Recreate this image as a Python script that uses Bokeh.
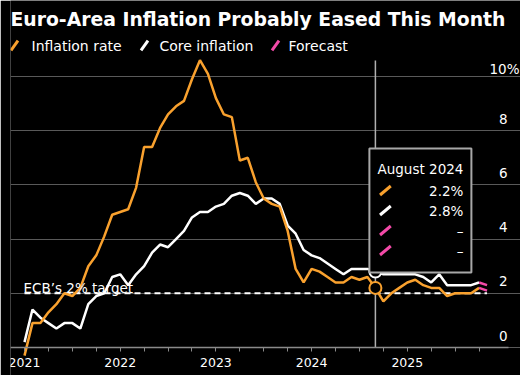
import math
from bokeh.plotting import figure
from bokeh.models import (ColumnDataSource, Range1d, FixedTicker, BoxAnnotation, Label,
                          LabelSet)
from bokeh.core.properties import value
from bokeh.embed import file_html
from bokeh.resources import INLINE

# ---------------- data ----------------
# index 0 = Dec 2020 (monthly values plotted at month end), index 57 = Sep 2025
inflation = [-0.3,
             0.9, 0.9, 1.3, 1.6, 2.0, 1.9, 2.2, 3.0, 3.4, 4.1, 4.9, 5.0,
             5.1, 5.9, 7.4, 7.4, 8.1, 8.6, 8.9, 9.1, 9.9, 10.6, 10.1, 9.2,
             8.6, 8.5, 6.9, 7.0, 6.1, 5.5, 5.3, 5.2, 4.3, 2.9, 2.4, 2.9,
             2.8, 2.6, 2.4, 2.4, 2.6, 2.5, 2.6, 2.2, 1.7, 2.0, 2.2, 2.4,
             2.5, 2.3, 2.2, 2.2, 1.9, 2.0, 2.0, 2.0, 2.2]
core = [0.2,
        1.4, 1.1, 0.9, 0.7, 0.9, 0.9, 0.7, 1.6, 1.9, 2.0, 2.6, 2.7,
        2.3, 2.7, 3.0, 3.5, 3.8, 3.7, 4.0, 4.3, 4.8, 5.0, 5.0, 5.2,
        5.3, 5.6, 5.7, 5.6, 5.3, 5.5, 5.5, 5.3, 4.5, 4.2, 3.6, 3.4,
        3.3, 3.1, 2.9, 2.7, 2.9, 2.9, 2.9, 2.8, 2.7, 2.7, 2.7, 2.7,
        2.7, 2.6, 2.4, 2.7, 2.3, 2.3, 2.3, 2.3, 2.4]
month_index = list(range(len(inflation)))
forecast_x = [57, 58]
forecast_inflation = [2.2, 2.1]
forecast_core = [2.4, 2.3]

year_ticks = [0, 12, 24, 36, 48]
year_labels = ["2021", "2022", "2023", "2024", "2025"]
quarter_ticks = [3, 6, 9, 15, 18, 21, 27, 30, 33, 39, 42, 45, 51, 54, 57]
y_ticks = [0, 2, 4, 6, 8, 10]
y_labels = ["0", "2", "4", "6", "8", "10"]
target = 2.0
target_label = "ECB\u2019s 2% target"
hover_idx = 44
hover_label = "August 2024"
title_text = "Euro-Area Inflation Probably Eased This Month"
series_names = ["Inflation rate", "Core inflation", "Forecast"]

# ---------------- style ----------------
ORANGE = "#f9a12e"
WHITE = "#ffffff"
PINK = "#f34aa8"
GRID = "#595959"
AXIS = "#8a8a8a"
FONT = "DejaVu Sans"

FW, FH = 510, 375
PLOT_W = 498                      # width of the axis / grid area in px
X0 = -1.755
SX = 498 / (60.69 - X0)
XR = X0 + PLOT_W / SX            # right end of axis and grid lines
X1 = X0 + FW / SX
Y0, Y1 = -1.033, 12.804
SY = FH / (Y1 - Y0)


def px_x(px):  # horizontal layout helper: pixels from frame left -> data x
    return X0 + px / SX


def px_y(px):  # vertical layout helper: pixels from frame top -> data y
    return Y1 - px / SY


p = figure(width=520, height=375,
           x_range=Range1d(X0, X1), y_range=Range1d(Y0, Y1),
           output_backend="svg", toolbar_location=None,
           y_axis_location=None,
           background_fill_color="black", border_fill_color="black",
           outline_line_color=None,
           min_border=0, min_border_left=10, min_border_right=0)
p.title.visible = False

p.xgrid.visible = False
p.ygrid.ticker = FixedTicker(ticks=y_ticks)
p.ygrid.grid_line_color = GRID
p.ygrid.grid_line_width = 1
p.ygrid.bounds = (X0, XR)

ax = p.xaxis[0]
ax.ticker = FixedTicker(ticks=year_ticks, minor_ticks=quarter_ticks)
ax.major_label_overrides = {t: l for t, l in zip(year_ticks, year_labels)}
ax.fixed_location = 0
ax.bounds = (X0, XR)
ax.axis_line_color = AXIS
ax.axis_line_width = 1.5
ax.major_tick_line_color = AXIS
ax.minor_tick_line_color = AXIS
ax.major_tick_in = 0
ax.major_tick_out = 4
ax.minor_tick_in = 0
ax.minor_tick_out = 4
ax.major_label_text_color = WHITE
ax.major_label_text_font = FONT
ax.major_label_text_font_size = "12.5px"
ax.major_label_standoff = 6

# title
p.add_layout(Label(x=X0, y=px_y(19), text=title_text, text_align="left",
                   text_baseline="alphabetic", text_color=WHITE, text_font=FONT,
                   text_font_style="bold", text_font_size="18.8px"))

# legend (slash glyphs + labels)
leg_glyph_px = [4, 134, 265]
leg_text_px = [21, 149, 278]
leg_colors = [ORANGE, WHITE, PINK]
p.scatter(x=[px_x(v) for v in leg_glyph_px], y=[px_y(45)] * 3, marker="dash",
          angle=math.pi / 3.3, size=12, line_color=leg_colors, line_width=3)
for tx, name in zip(leg_text_px, series_names):
    p.add_layout(Label(x=px_x(tx), y=px_y(45), text=name, text_align="left",
                       text_baseline="middle", text_color=WHITE, text_font=FONT,
                       text_font_size="14px"))

# y labels (inside, right side, above gridlines)
ysrc = ColumnDataSource(dict(x=[XR - 1 / SX] * (len(y_ticks) - 1),
                             y=[t + 7 / SY for t in y_ticks[:-1]],
                             text=y_labels[:-1]))
p.add_layout(LabelSet(x="x", y="y", text="text", source=ysrc, text_align="right",
                      text_baseline="alphabetic",
                      text_color=WHITE, text_font=value(FONT), text_font_size="13.5px"))
p.add_layout(Label(x=XR + 11 / SX, y=y_ticks[-1] + 7 / SY, text=y_labels[-1] + "%",
                   text_align="right", text_baseline="alphabetic",
                   text_color=WHITE, text_font=FONT, text_font_size="13.5px"))

# target line
p.line([month_index[0], forecast_x[-1]], [target, target], line_color=WHITE,
       line_width=2, line_dash="6 4")
p.add_layout(Label(x=month_index[0] - 1 / SX, y=target + 5 / SY, text=target_label,
                   text_align="left", text_baseline="alphabetic",
                   text_color=WHITE, text_font=FONT, text_font_size="13.5px"))

# series
p.line(month_index, core, line_color=WHITE, line_width=2.5)
p.line(month_index, inflation, line_color=ORANGE, line_width=2.5)
p.line(forecast_x, forecast_core, line_color=PINK, line_width=2.5)
p.line(forecast_x, forecast_inflation, line_color=PINK, line_width=2.5)

# crosshair + hover markers
p.segment(x0=[hover_idx], y0=[0], x1=[hover_idx], y1=[px_y(60)], line_color="#b0b0b0",
          line_width=1.5)
p.scatter([hover_idx, hover_idx], [inflation[hover_idx], core[hover_idx]], size=12,
          fill_color="black", line_color=[ORANGE, WHITE], line_width=2)

# tooltip box
box_top = px_y(148)
box_bottom = px_y(272)
p.add_layout(BoxAnnotation(left=hover_idx - 6 / SX, right=hover_idx + 96 / SX,
                           top=box_top, bottom=box_bottom, fill_color="black",
                           fill_alpha=1.0, line_color="#a8a8a8", line_width=2,
                           line_alpha=1.0))
row_off = [20, 42, 62, 82, 102]
row_y = [box_top - o / SY for o in row_off]
row_text = [hover_label, f"{inflation[hover_idx]:.1f}%", f"{core[hover_idx]:.1f}%",
            "\u2013", "\u2013"]
for yy, tt in zip(row_y, row_text):
    p.add_layout(Label(x=hover_idx + 88 / SX, y=yy, text=tt, text_align="right",
                       text_baseline="middle", text_color=WHITE, text_font=FONT,
                       text_font_size="13.5px"))
slash_src = ColumnDataSource(dict(x=[hover_idx + 10 / SX] * 4, y=row_y[1:],
                                  c=[ORANGE, WHITE, PINK, PINK]))
p.scatter(x="x", y="y", source=slash_src, marker="dash", angle=math.pi / 4.5, size=14,
          line_color="c", line_width=3, level="overlay")

open("out.html", "w").write(file_html(p, INLINE))
